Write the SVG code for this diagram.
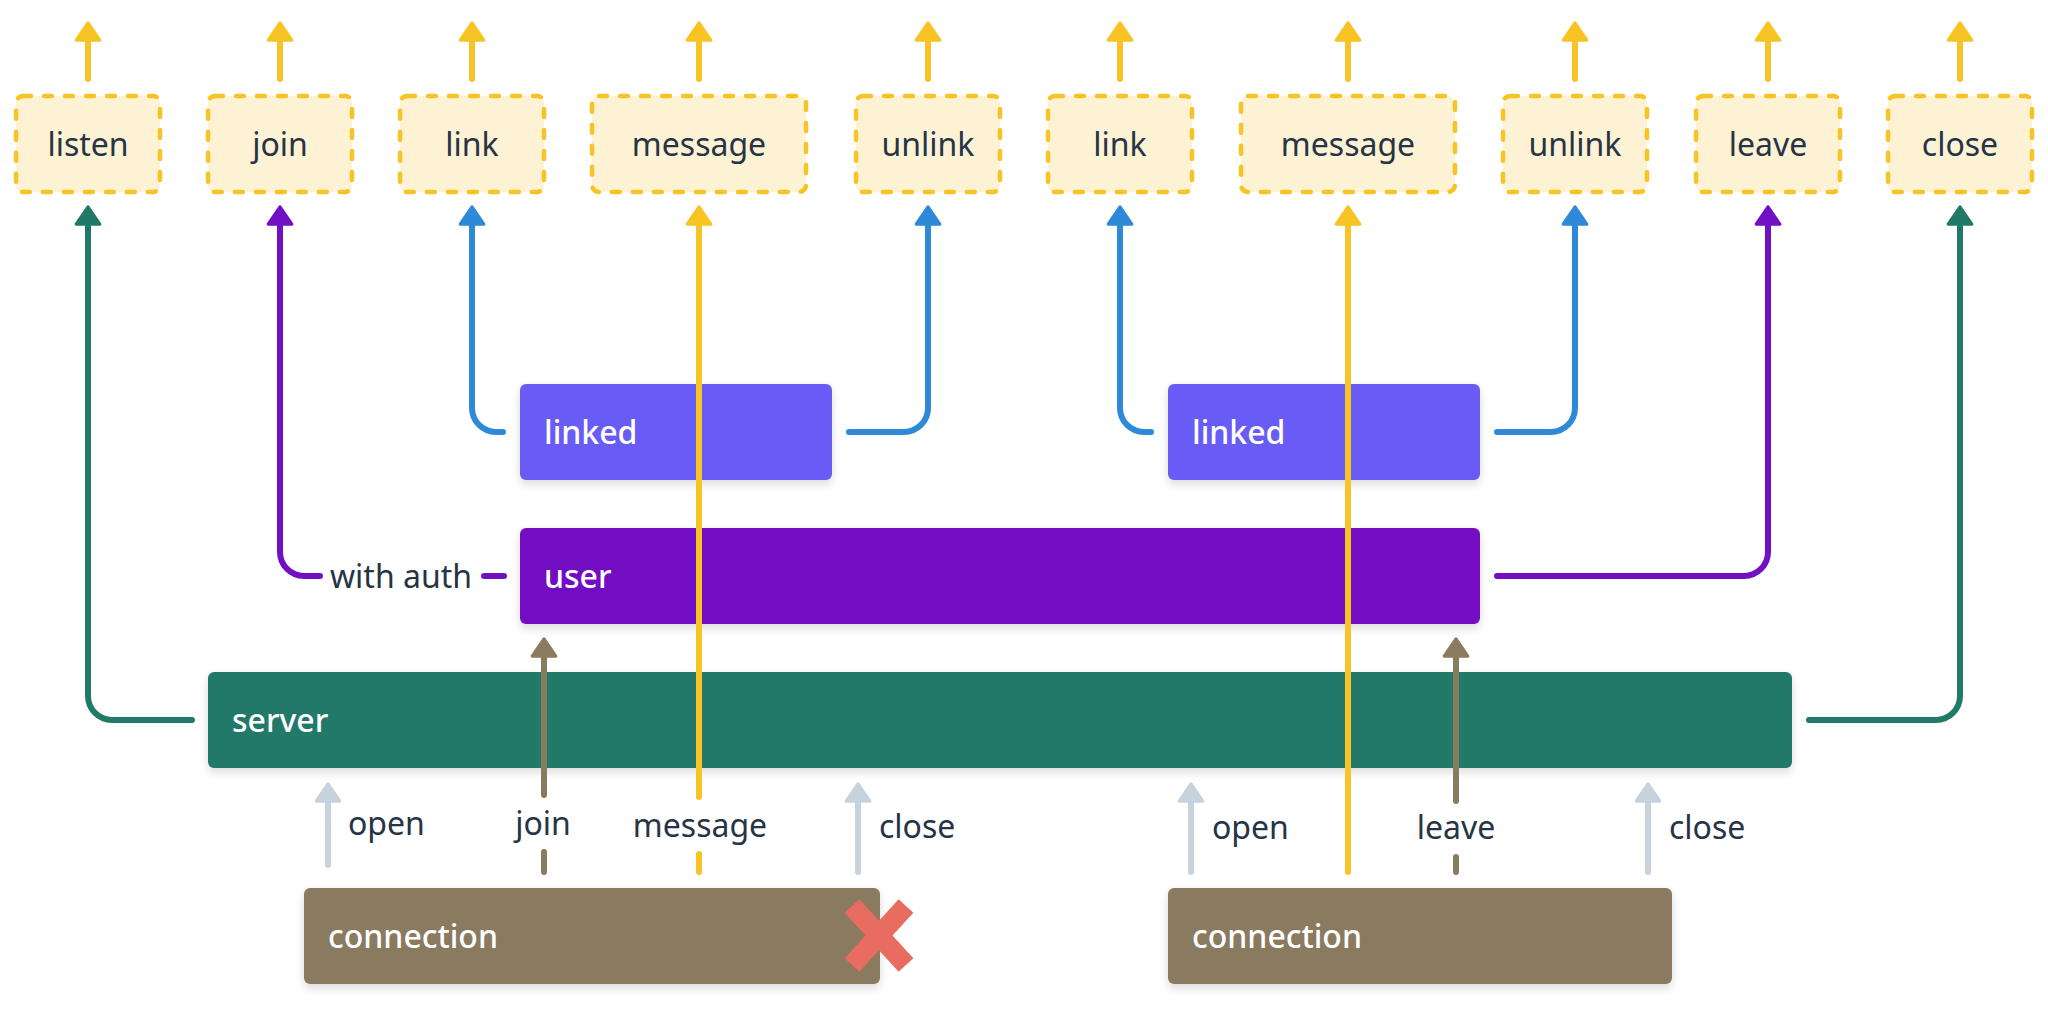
<svg xmlns="http://www.w3.org/2000/svg" width="2048" height="1024" viewBox="0 0 2048 1024">
<style>
text{font-family:"Noto Sans","Open Sans","DejaVu Sans",sans-serif;font-size:32px}
.ev rect{fill:#fdf2d3;stroke:#f8c325;stroke-width:4.5;stroke-dasharray:8 13;stroke-linecap:round}
.ev text{fill:#263445;text-anchor:middle}
.nd text{fill:#ffffff;font-weight:500}
.lb{fill:#263445}
.c{fill:none;stroke-width:6;stroke-linecap:round}
.y{stroke:#f8c325}.t{stroke:#21796a}.p{stroke:#7210c4}.b{stroke:#2e8ad8}.br{stroke:#8a7a5e}.g{stroke:#c6d2dc}
</style>
<defs>
<filter id="sh" x="-10%" y="-30%" width="120%" height="170%"><feDropShadow dx="0" dy="4" stdDeviation="5" flood-color="#000" flood-opacity="0.14"/></filter>
<marker id="mY" markerUnits="userSpaceOnUse" orient="auto" markerWidth="30" markerHeight="30" viewBox="-2 -14 22 28" refX="1" refY="0"><path d="M0,-11 L16,0 L0,11 Z" fill="#f8c325" stroke="#f8c325" stroke-width="3" stroke-linejoin="round"/></marker>
<marker id="mT" markerUnits="userSpaceOnUse" orient="auto" markerWidth="30" markerHeight="30" viewBox="-2 -14 22 28" refX="1" refY="0"><path d="M0,-11 L16,0 L0,11 Z" fill="#21796a" stroke="#21796a" stroke-width="3" stroke-linejoin="round"/></marker>
<marker id="mP" markerUnits="userSpaceOnUse" orient="auto" markerWidth="30" markerHeight="30" viewBox="-2 -14 22 28" refX="1" refY="0"><path d="M0,-11 L16,0 L0,11 Z" fill="#7210c4" stroke="#7210c4" stroke-width="3" stroke-linejoin="round"/></marker>
<marker id="mB" markerUnits="userSpaceOnUse" orient="auto" markerWidth="30" markerHeight="30" viewBox="-2 -14 22 28" refX="1" refY="0"><path d="M0,-11 L16,0 L0,11 Z" fill="#2e8ad8" stroke="#2e8ad8" stroke-width="3" stroke-linejoin="round"/></marker>
<marker id="mBr" markerUnits="userSpaceOnUse" orient="auto" markerWidth="30" markerHeight="30" viewBox="-2 -14 22 28" refX="1" refY="0"><path d="M0,-11 L16,0 L0,11 Z" fill="#8a7a5e" stroke="#8a7a5e" stroke-width="3" stroke-linejoin="round"/></marker>
<marker id="mG" markerUnits="userSpaceOnUse" orient="auto" markerWidth="30" markerHeight="30" viewBox="-2 -14 22 28" refX="1" refY="0"><path d="M0,-11 L16,0 L0,11 Z" fill="#c6d2dc" stroke="#c6d2dc" stroke-width="3" stroke-linejoin="round"/></marker>
</defs>
<rect width="2048" height="1024" fill="#ffffff"/>

<!-- event boxes -->
<g id="ev-listen" class="ev"><rect x="16" y="96" width="144" height="96" rx="7"/><text x="88" y="156">listen</text></g>
<g id="ev-join" class="ev"><rect x="208" y="96" width="144" height="96" rx="7"/><text x="280" y="156">join</text></g>
<g id="ev-link1" class="ev"><rect x="400" y="96" width="144" height="96" rx="7"/><text x="472" y="156">link</text></g>
<g id="ev-message1" class="ev"><rect x="592" y="96" width="214" height="96" rx="7"/><text x="699" y="156">message</text></g>
<g id="ev-unlink1" class="ev"><rect x="856" y="96" width="144" height="96" rx="7"/><text x="928" y="156">unlink</text></g>
<g id="ev-link2" class="ev"><rect x="1048" y="96" width="144" height="96" rx="7"/><text x="1120" y="156">link</text></g>
<g id="ev-message2" class="ev"><rect x="1241" y="96" width="214" height="96" rx="7"/><text x="1348" y="156">message</text></g>
<g id="ev-unlink2" class="ev"><rect x="1503" y="96" width="144" height="96" rx="7"/><text x="1575" y="156">unlink</text></g>
<g id="ev-leave" class="ev"><rect x="1696" y="96" width="144" height="96" rx="7"/><text x="1768" y="156">leave</text></g>
<g id="ev-close" class="ev"><rect x="1888" y="96" width="144" height="96" rx="7"/><text x="1960" y="156">close</text></g>

<!-- main nodes -->
<g id="linked1" class="nd"><rect x="520" y="384" width="312" height="96" rx="6" fill="#695bf6" filter="url(#sh)"/><text x="544" y="444">linked</text></g>
<g id="linked2" class="nd"><rect x="1168" y="384" width="312" height="96" rx="6" fill="#695bf6" filter="url(#sh)"/><text x="1192" y="444">linked</text></g>
<g id="user" class="nd"><rect x="520" y="528" width="960" height="96" rx="6" fill="#7210c4" filter="url(#sh)"/><text x="544" y="588">user</text></g>
<g id="server" class="nd"><rect x="208" y="672" width="1584" height="96" rx="6" fill="#21796a" filter="url(#sh)"/><text x="232" y="732">server</text></g>
<g id="connection1" class="nd"><rect x="304" y="888" width="576" height="96" rx="6" fill="#8a7a5e" filter="url(#sh)"/><text x="328" y="948">connection</text>
<g stroke="#e86c5f" stroke-width="20" stroke-linecap="butt"><line x1="852" y1="906" x2="906" y2="965"/><line x1="906" y1="906" x2="852" y2="965"/></g></g>
<g id="connection2" class="nd"><rect x="1168" y="888" width="504" height="96" rx="6" fill="#8a7a5e" filter="url(#sh)"/><text x="1192" y="948">connection</text></g>

<!-- connectors -->
<g id="connectors">
<g id="top-arrows" class="c y" marker-end="url(#mY)">
<path d="M88,79 V39"/><path d="M280,79 V39"/><path d="M472,79 V39"/><path d="M699,79 V39"/><path d="M928,79 V39"/>
<path d="M1120,79 V39"/><path d="M1348,79 V39"/><path d="M1575,79 V39"/><path d="M1768,79 V39"/><path d="M1960,79 V39"/>
</g>
<path class="c t" d="M192,720 H112 A24,24 0 0 1 88,696 V223" marker-end="url(#mT)"/>
<path class="c t" d="M1809,720 H1936 A24,24 0 0 0 1960,696 V223" marker-end="url(#mT)"/>
<path class="c p" d="M504,576 H484"/>
<text class="lb" x="401" y="588" text-anchor="middle">with auth</text>
<path class="c p" d="M320,576 H304 A24,24 0 0 1 280,552 V223" marker-end="url(#mP)"/>
<path class="c p" d="M1497,576 H1744 A24,24 0 0 0 1768,552 V223" marker-end="url(#mP)"/>
<path class="c b" d="M503,432 H496 A24,24 0 0 1 472,408 V223" marker-end="url(#mB)"/>
<path class="c b" d="M849,432 H904 A24,24 0 0 0 928,408 V223" marker-end="url(#mB)"/>
<path class="c b" d="M1151,432 H1144 A24,24 0 0 1 1120,408 V223" marker-end="url(#mB)"/>
<path class="c b" d="M1497,432 H1551 A24,24 0 0 0 1575,408 V223" marker-end="url(#mB)"/>
<!-- message lines -->
<path class="c y" d="M699,872 V854"/>
<path class="c y" d="M699,797 V223" marker-end="url(#mY)"/>
<text class="lb" x="700" y="837" text-anchor="middle">message</text>
<path class="c y" d="M1348,872 V223" marker-end="url(#mY)"/>
<!-- join / leave -->
<path class="c br" d="M544,872 V852"/>
<path class="c br" d="M544,795 V655" marker-end="url(#mBr)"/>
<text class="lb" x="543" y="835" text-anchor="middle">join</text>
<path class="c br" d="M1456,872 V857"/>
<path class="c br" d="M1456,801 V655" marker-end="url(#mBr)"/>
<text class="lb" x="1456" y="839" text-anchor="middle">leave</text>
<!-- open / close -->
<path class="c g" d="M328,865 V800" marker-end="url(#mG)"/>
<text class="lb" x="348" y="835">open</text>
<path class="c g" d="M858,872 V800" marker-end="url(#mG)"/>
<text class="lb" x="879" y="838">close</text>
<path class="c g" d="M1191,872 V800" marker-end="url(#mG)"/>
<text class="lb" x="1212" y="839">open</text>
<path class="c g" d="M1648,872 V800" marker-end="url(#mG)"/>
<text class="lb" x="1669" y="839">close</text>
</g>
</svg>
